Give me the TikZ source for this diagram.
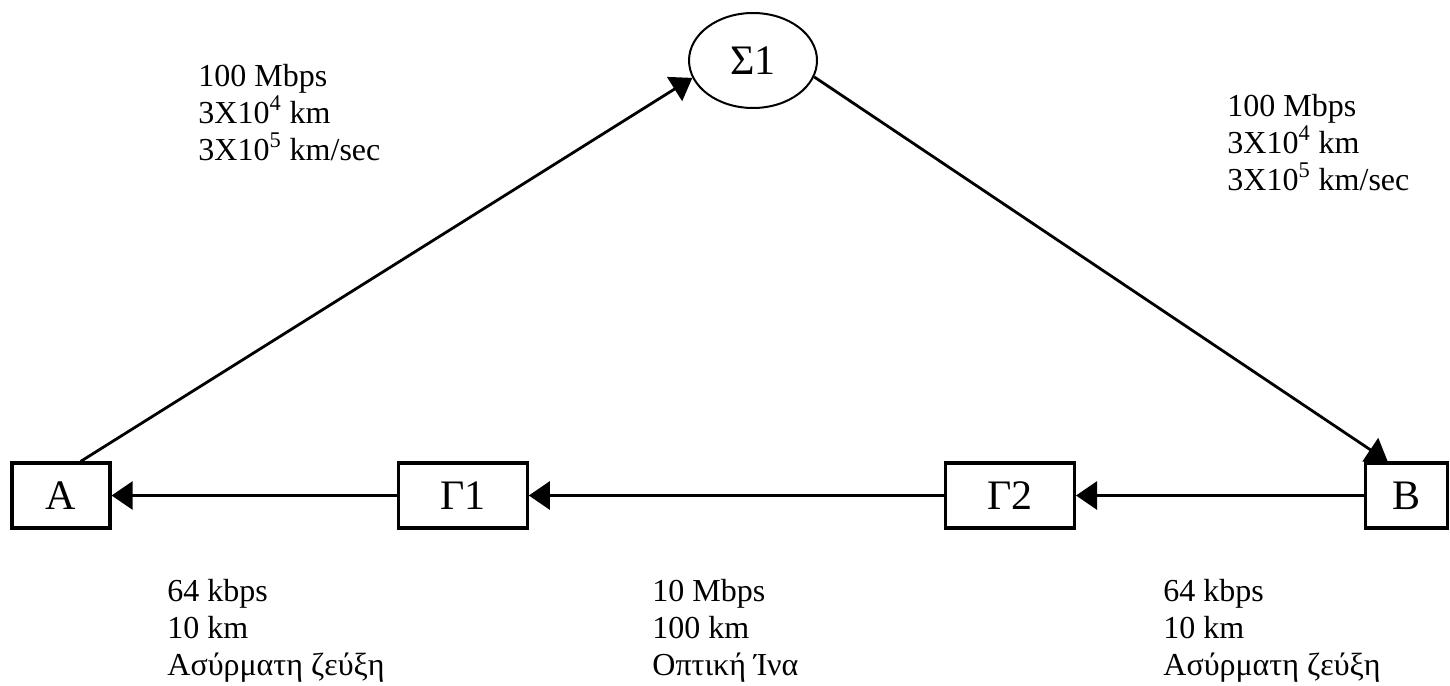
\documentclass[tikz,border=0pt]{standalone}
\usepackage{fontspec}
\setmainfont{Liberation Serif}
\usetikzlibrary{arrows.meta,positioning,shapes.geometric}
\newcommand{\stationfont}{\fontsize{21}{25}\selectfont}
\newcommand{\linkfont}{\fontsize{16}{18.5}\selectfont}

\begin{document}
\begin{tikzpicture}[
  x=0.5pt,y=-0.5pt,
  station/.style={draw,line width=1.6pt,minimum height=32.5pt,inner sep=0pt,font=\stationfont},
  sat/.style={ellipse,draw,line width=1pt,minimum width=64pt,minimum height=47.5pt,inner sep=0pt,font=\stationfont},
  link/.style={->,line width=1.4pt},
  info/.style={anchor=base west,align=left,inner sep=0pt,font=\linkfont},
  >={Triangle[length=10.5pt,width=14pt]}
]
\useasboundingbox (0,0) rectangle (1450,685);
\node[station,minimum width=49pt] (A) at (61,495.5) {A};
\node[station,minimum width=64.5pt,right=142.5pt of A] (G1) {Γ1};
\node[station,minimum width=64.5pt,right=207.5pt of G1] (G2) {Γ2};
\node[station,minimum width=41pt,right=144pt of G2] (B) {B};
\node[sat] (S1) at (753,60.5) {Σ1};

\draw[link] (A.60) -- (S1.196);
\draw[link] (S1.345) -- (B.119);
\draw[link] (B) -- (G2);
\draw[link] (G2) -- (G1);
\draw[link] (G1) -- (A);

% link data
\node[info] (upA) at (198,160) {100 Mbps\\3X10\textsuperscript{4} km\\3X10\textsuperscript{5} km/sec};
\node[info] (upB) at (1227,190) {100 Mbps\\3X10\textsuperscript{4} km\\3X10\textsuperscript{5} km/sec};
\node[info] (radA) at (167,675) {64 kbps\\10 km\\Ασύρματη ζεύξη};
\node[info] (fibre) at (652,675) {10 Mbps\\100 km\\Οπτική Ίνα};
\node[info] (radB) at (1163,675) {64 kbps\\10 km\\Ασύρματη ζεύξη};
\end{tikzpicture}
\end{document}
